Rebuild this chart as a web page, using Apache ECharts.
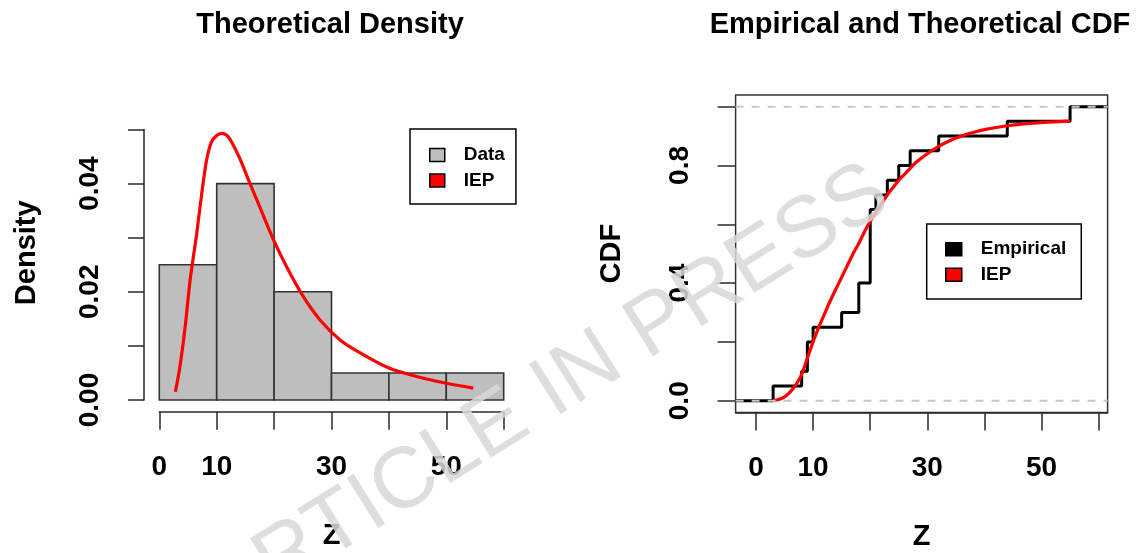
<!DOCTYPE html>
<html><head><meta charset="utf-8">
<script src="https://cdn.jsdelivr.net/npm/echarts@6/dist/echarts.min.js"></script>
<style>html,body{margin:0;padding:0;background:#fff}#c{width:1141px;height:553px}</style>
</head><body><div id="c"></div>
<script>
// ---- data ----
const binEdges = [0, 10, 20, 30, 40, 50, 60];
const binDensity = [0.025, 0.040, 0.020, 0.005, 0.005, 0.005];

const pdfX = [2.8, 3.6, 4.5, 5.35, 5.9, 6.5, 7.4, 8.25, 9.1, 10.0, 10.9, 11.8, 12.6, 14.0, 15.8, 17.5, 19.9, 22.2, 25.1, 28.0, 31.5, 35.0, 40.0, 45.0, 50.0, 54.7];
const pdfY = [0.0015, 0.0062, 0.0135, 0.0220, 0.0262, 0.0306, 0.0382, 0.0444, 0.0477, 0.0489, 0.0493, 0.0489, 0.0477, 0.0447, 0.0400, 0.0357, 0.0296, 0.0246, 0.0191, 0.0148, 0.0111, 0.0087, 0.0059, 0.0043, 0.0031, 0.0022];

const ecdfKnots = [3, 8, 9, 10, 15, 18, 20, 21, 23, 25, 27, 32, 44, 55];
const ecdfValues = [0.05, 0.10, 0.20, 0.25, 0.30, 0.40, 0.65, 0.70, 0.75, 0.80, 0.85, 0.90, 0.95, 1.00];

const cdfX = [3, 4, 5, 6, 7, 8, 9, 10, 11, 12, 13, 14, 15, 16, 17, 18, 19, 20, 21, 22, 23, 24, 25, 26, 27, 28, 30, 32, 34, 36, 38, 40, 44, 48, 52, 55];
const cdfY = [0, 0.004, 0.013, 0.03, 0.055, 0.09, 0.145, 0.20, 0.25, 0.295, 0.34, 0.38, 0.42, 0.46, 0.50, 0.535, 0.575, 0.61, 0.64, 0.67, 0.70, 0.725, 0.75, 0.77, 0.79, 0.81, 0.84, 0.865, 0.885, 0.90, 0.912, 0.922, 0.935, 0.943, 0.948, 0.951];

const zTicks = [0, 10, 20, 30, 40, 50, 60];
const zTickLabels = [0, 10, 30, 50];
const densityTicks = [0, 0.01, 0.02, 0.03, 0.04, 0.05];
const densityTickLabels = [0, 0.02, 0.04];
const cdfTicks = [0, 0.2, 0.4, 0.6, 0.8, 1.0];
const cdfTickLabels = [0, 0.4, 0.8];
const cdfRange = [-3.57, 61.57];
// --------------------------------------

const FF = "'Liberation Sans', Arial, Helvetica, sans-serif";
const AX = '#2a2a2a';
const chart = echarts.init(document.getElementById('c'), null, {renderer: 'canvas'});

const tickStyle = {show: true, inside: false, length: 18, lineStyle: {color: AX, width: 1.5}};
const lblStyle = {fontSize: 28, fontWeight: 'bold', fontFamily: FF, color: '#000'};
const nameStyle = {fontSize: 29, fontWeight: 'bold', fontFamily: FF, color: '#000'};

const option = {
  animation: false,
  backgroundColor: '#fff',
  title: [
    {text: 'Theoretical Density', left: 330, top: 10, padding: 0, textAlign: 'center',
     textStyle: {fontSize: 29, fontWeight: 'bold', fontFamily: FF, color: '#000'}},
    {text: 'Empirical and Theoretical CDF', left: 920, top: 10, padding: 0, textAlign: 'center',
     textStyle: {fontSize: 29, fontWeight: 'bold', fontFamily: FF, color: '#000'}}
  ],
  grid: [
    {left: 159.3, top: 129.5, width: 344.4, height: 270.5, containLabel: false, outerBoundsMode: 'none'},
    {left: 735.6, top: 94.9, width: 372, height: 317.6, containLabel: false, outerBoundsMode: 'none',
     show: true, borderColor: '#333', borderWidth: 1.5, backgroundColor: 'transparent'}
  ],
  xAxis: [
    {type: 'value', gridIndex: 0, min: 0, max: 60, offset: 11.7,
     name: 'Z', nameLocation: 'middle', nameGap: 110, nameTextStyle: nameStyle,
     axisLine: {show: true, onZero: false, lineStyle: {color: AX, width: 1.5}},
     axisTick: Object.assign({customValues: zTicks}, tickStyle),
     axisLabel: Object.assign({customValues: zTickLabels, margin: 42}, lblStyle),
     splitLine: {show: false}},
    {type: 'value', gridIndex: 1, min: cdfRange[0], max: cdfRange[1],
     name: 'Z', nameLocation: 'middle', nameGap: 110, nameTextStyle: nameStyle,
     axisLine: {show: true, onZero: false, lineStyle: {color: AX, width: 1.5}},
     axisTick: Object.assign({customValues: zTicks}, tickStyle),
     axisLabel: Object.assign({customValues: zTickLabels, margin: 42}, lblStyle),
     splitLine: {show: false}}
  ],
  yAxis: [
    {type: 'value', gridIndex: 0, min: 0, max: 0.05, offset: 15.3,
     name: 'Density', nameLocation: 'middle', nameGap: 103, nameRotate: 90,
     nameTextStyle: Object.assign({padding: [0, 0, 0, 24]}, nameStyle),
     axisLine: {show: true, onZero: false, lineStyle: {color: AX, width: 1.5}},
     axisTick: Object.assign({customValues: densityTicks}, tickStyle, {length: 16}),
     axisLabel: Object.assign({customValues: densityTickLabels, margin: 40, rotate: 90,
       formatter: v => Number(v).toFixed(2)}, lblStyle),
     splitLine: {show: false}},
    {type: 'value', gridIndex: 1, min: -0.04, max: 1.04,
     name: 'CDF', nameLocation: 'middle', nameGap: 109, nameRotate: 90, nameTextStyle: nameStyle,
     axisLine: {show: false, onZero: false},
     axisTick: Object.assign({customValues: cdfTicks}, tickStyle),
     axisLabel: Object.assign({customValues: cdfTickLabels, margin: 41, rotate: 90,
       formatter: v => Number(v).toFixed(1)}, lblStyle),
     splitLine: {show: false}}
  ],
  legend: [
    {orient: 'vertical', left: 410, top: 129, padding: [16.5, 11, 14, 19], itemGap: 6.5,
     itemWidth: 15, itemHeight: 13, backgroundColor: '#fff', borderColor: '#000', borderWidth: 1.5,
     borderRadius: 0, selectedMode: false,
     textStyle: {fontSize: 19, fontWeight: 'bold', fontFamily: FF, color: '#000', padding: [0, 0, 0, 14]},
     data: [
       {name: 'Data', icon: 'rect', itemStyle: {color: '#BEBEBE', borderColor: '#000', borderWidth: 1.5}},
       {name: 'IEP', icon: 'rect', itemStyle: {color: '#FF0000', borderColor: '#000', borderWidth: 1.5}}
     ]},
    {orient: 'vertical', left: 926.7, top: 224, padding: [15.7, 15, 14.7, 18.3], itemGap: 6.5,
     itemWidth: 16, itemHeight: 13, backgroundColor: '#fff', borderColor: '#000', borderWidth: 1.5,
     borderRadius: 0, selectedMode: false,
     textStyle: {fontSize: 19, fontWeight: 'bold', fontFamily: FF, color: '#000', padding: [0, 0, 0, 14]},
     data: [
       {name: 'Empirical', icon: 'rect', itemStyle: {color: '#000', borderColor: '#000', borderWidth: 1.5}},
       {name: 'IEP', icon: 'rect', itemStyle: {color: '#FF0000', borderColor: '#000', borderWidth: 1.5}}
     ]}
  ],
  series: [
    {type: 'custom', name: 'Data', xAxisIndex: 0, yAxisIndex: 0, z: 2,
     encode: {x: [0, 1], y: 2},
     data: binDensity.map((d, i) => [binEdges[i], binEdges[i + 1], d]),
     renderItem: function (params, api) {
       const p0 = api.coord([api.value(0), api.value(2)]);
       const p1 = api.coord([api.value(1), 0]);
       return {type: 'rect',
         shape: {x: p0[0], y: p0[1], width: p1[0] - p0[0], height: p1[1] - p0[1]},
         style: {fill: '#BEBEBE', stroke: '#333', lineWidth: 1.6}};
     }},
    {type: 'line', name: 'IEP', xAxisIndex: 0, yAxisIndex: 0, z: 3,
     data: pdfX.map((x, i) => [x, pdfY[i]]), smooth: 0.3, showSymbol: false, symbol: 'none',
     lineStyle: {color: '#FF0000', width: 3.2}, itemStyle: {color: '#FF0000'}},
    {type: 'line', name: 'Empirical', xAxisIndex: 1, yAxisIndex: 1, z: 3, step: 'end',
     data: [[cdfRange[0], 0]].concat(ecdfKnots.map((k, i) => [k, ecdfValues[i]])).concat([[cdfRange[1], 1]]),
     showSymbol: false, symbol: 'none', lineStyle: {color: '#000', width: 3}, itemStyle: {color: '#000'}},
    {type: 'line', name: 'IEP', xAxisIndex: 1, yAxisIndex: 1, z: 4,
     data: cdfX.map((x, i) => [x, cdfY[i]]), smooth: 0.3, showSymbol: false, symbol: 'none',
     lineStyle: {color: '#FF0000', width: 3.2}, itemStyle: {color: '#FF0000'}},
    {type: 'line', name: 'ref0', xAxisIndex: 1, yAxisIndex: 1, z: 5, silent: true,
     data: [[cdfRange[0], 0], [cdfRange[1], 0]], showSymbol: false, symbol: 'none',
     lineStyle: {color: '#C8C8C8', width: 2, type: [8, 8]}},
    {type: 'line', name: 'ref1', xAxisIndex: 1, yAxisIndex: 1, z: 5, silent: true,
     data: [[cdfRange[0], 1], [cdfRange[1], 1]], showSymbol: false, symbol: 'none',
     lineStyle: {color: '#C8C8C8', width: 2, type: [8, 8]}}
  ],
  graphic: [
    {type: 'text', x: 548, y: 394, rotation: 32 * Math.PI / 180, z: 100, silent: true,
     style: {text: 'ARTICLE IN PRESS', fontSize: 86, fontFamily: FF, fill: 'rgba(216,216,216,0.85)',
       align: 'center', verticalAlign: 'middle'}}
  ]
};
chart.setOption(option);
</script>
</body></html>
